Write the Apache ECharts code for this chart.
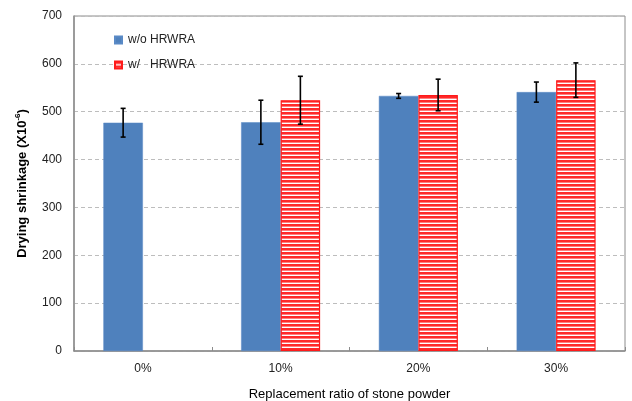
<!DOCTYPE html>
<html>
<head>
<meta charset="utf-8">
<script src="https://cdn.jsdelivr.net/npm/echarts@6/dist/echarts.min.js"></script>
<style>
  html, body { margin: 0; padding: 0; background: #fff; }
  #chart { width: 632px; height: 401px; }
</style>
</head>
<body>
<div id="chart"></div>
<script>
// Replacement ratio of stone powder
const categories = ['0%', '10%', '20%', '30%'];
// Drying shrinkage (x10^-6), mean and error half-range
const woHrwraValues = [477, 478, 533, 541];
const woHrwraErrors = [30, 46, 5, 21];
const wHrwraValues = [null, 524, 535, 566];
const wHrwraErrors = [null, 50, 33, 36];
const yTicks = [0, 100, 200, 300, 400, 500, 600, 700];
const seriesNames = ['w/o HRWRA', 'w/   HRWRA'];

const BAR_WIDTH = 39.5;
const FONT = '"Liberation Sans", Arial, sans-serif';

// horizontal red/white stripe fill
function stripePattern() {
  const c = document.createElement('canvas');
  c.width = 4; c.height = 4;
  const g = c.getContext('2d');
  g.fillStyle = '#ffffff';
  g.fillRect(0, 0, 4, 4);
  g.fillStyle = '#ff2a2a';
  g.fillRect(0, 0, 4, 2.6);
  return { image: c, repeat: 'repeat' };
}

function errorBarSeries(values, errors, side) {
  const data = values.map((v, i) => (v == null ? null : [i, v - errors[i], v + errors[i]]));
  return {
    type: 'custom',
    silent: true,
    z: 10,
    data: data.filter(d => d),
    renderItem(params, api) {
      const i = api.value(0);
      const lo = api.coord([i, api.value(1)]);
      const hi = api.coord([i, api.value(2)]);
      const x = lo[0] + side * BAR_WIDTH / 2;
      const cap = 2.5;
      const style = { stroke: '#000', lineWidth: 1.6 };
      return {
        type: 'group',
        children: [
          { type: 'line', shape: { x1: x, y1: hi[1], x2: x, y2: lo[1] }, style },
          { type: 'line', shape: { x1: x - cap, y1: hi[1], x2: x + cap, y2: hi[1] }, style },
          { type: 'line', shape: { x1: x - cap, y1: lo[1], x2: x + cap, y2: lo[1] }, style }
        ]
      };
    }
  };
}

const chart = echarts.init(document.getElementById('chart'), null, { renderer: 'canvas' });
chart.setOption({
  animation: false,
  backgroundColor: '#fff',
  textStyle: { fontFamily: FONT },
  grid: {
    left: 74, right: 7, top: 16, bottom: 50,
    outerBoundsMode: 'none',
    containLabel: false,
    show: true, borderColor: '#8c8c8c', borderWidth: 1, backgroundColor: 'transparent'
  },
  legend: {
    orient: 'vertical',
    left: 114, top: 34,
    padding: 0,
    itemWidth: 7, itemHeight: 7,
    itemGap: 13,
    icon: 'rect',
    textStyle: { fontFamily: FONT, fontSize: 12, color: '#222', padding: [0, 0, 0, 1] },
    data: seriesNames
  },
  xAxis: {
    type: 'category',
    data: categories,
    name: 'Replacement ratio of stone powder',
    nameLocation: 'middle',
    nameGap: 37,
    nameTextStyle: { fontFamily: FONT, fontSize: 13, color: '#000' },
    axisLine: { lineStyle: { color: '#8c8c8c', width: 1.5 } },
    axisTick: { show: true, inside: true, length: 4, lineStyle: { color: '#8c8c8c' } },
    axisLabel: { fontFamily: FONT, fontSize: 12, color: '#222', margin: 12 }
  },
  yAxis: {
    type: 'value',
    min: yTicks[0],
    max: yTicks[yTicks.length - 1],
    interval: 100,
    name: '{m|Drying shrinkage (X10}{s|-6}{m|)}',
    nameLocation: 'middle',
    nameGap: 44,
    nameTextStyle: {
      rich: {
        m: { fontFamily: FONT, fontSize: 13, fontWeight: 'bold', color: '#000', lineHeight: 16 },
        s: { fontFamily: FONT, fontSize: 8, fontWeight: 'bold', color: '#000', verticalAlign: 'top', lineHeight: 16 }
      }
    },
    axisLine: { show: true, lineStyle: { color: '#8c8c8c', width: 1.5 } },
    axisTick: { show: false },
    axisLabel: { fontFamily: FONT, fontSize: 12, color: '#222', margin: 12 },
    splitLine: { lineStyle: { color: '#bdbdbd', type: [4, 3], width: 1 } }
  },
  series: [
    {
      name: seriesNames[0],
      type: 'bar',
      barWidth: BAR_WIDTH,
      barGap: '0%',
      data: woHrwraValues,
      itemStyle: { color: '#4f81bd', borderColor: '#5a8ac6', borderWidth: 0.5 }
    },
    {
      name: seriesNames[1],
      type: 'bar',
      barWidth: BAR_WIDTH,
      barGap: '0%',
      data: wHrwraValues,
      itemStyle: { color: stripePattern(), borderColor: '#ff1a1a', borderWidth: 1.2 }
    },
    errorBarSeries(woHrwraValues, woHrwraErrors, -1),
    errorBarSeries(wHrwraValues, wHrwraErrors, 1)
  ]
});
</script>
</body>
</html>
